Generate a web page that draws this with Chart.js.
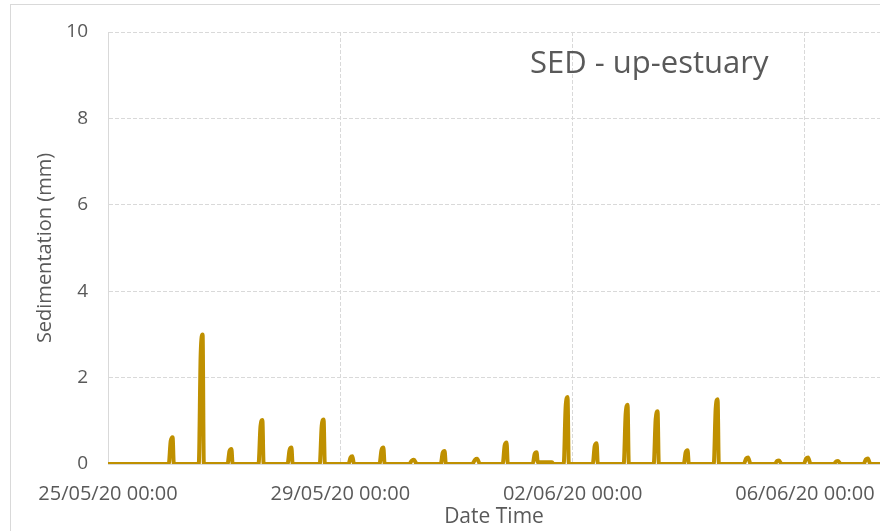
<!DOCTYPE html>
<html>
<head>
<meta charset="utf-8">
<script src="https://cdn.jsdelivr.net/npm/chart.js@4"></script>
<style>
    html, body { margin: 0; padding: 0; background: #ffffff; overflow: hidden; }
    #frame {
        position: absolute; left: 10px; top: 4px; width: 900px; height: 540px;
        border-left: 1px solid #d9d9d9; border-top: 1px solid #d9d9d9;
    }
    #wrap { position: absolute; left: 0; top: 0; width: 869px; height: 526px; }
</style>
</head>
<body>
<div id="frame"><div id="wrap"><canvas id="sedChart"></canvas></div></div>
<script>
// hours since 25/05/20 00:00, one row per tidal spike
const hours = [
    0,
    25.1, 25.9, 26.7, 27.2,
    37.5, 38.3, 39.1, 39.6,
    49.4, 50.2, 51.0, 51.5,
    62.2, 63.0, 63.8, 64.3,
    74.2, 75.0, 75.8, 76.3,
    87.5, 88.3, 89.1, 89.6,
    99.4, 100.2, 101.0, 101.6,
    112.2, 113.0, 113.8, 114.3,
    124.4, 125.6, 126.4, 127.6,
    137.5, 138.3, 139.1, 139.6,
    150.5, 151.7, 152.5, 153.7,
    163.1, 163.9, 164.7, 165.2,
    175.5, 176.3, 177.1, 177.6, 183.5, 184.0,
    188.3, 189.1, 189.9, 190.4,
    200.3, 201.1, 201.9, 202.4,
    213.1, 213.9, 214.7, 215.2,
    225.5, 226.3, 227.1, 227.6,
    237.9, 238.7, 239.5, 240.0,
    250.3, 251.1, 251.9, 252.4,
    262.7, 263.7, 264.5, 265.5,
    275.5, 276.5, 277.3, 278.3,
    287.5, 288.5, 289.3, 290.3,
    299.9, 300.9, 301.7, 302.7,
    312.2, 313.2, 314.0, 315.0,
    330
];
const sedMm = [
    0,
    0, 0.53, 0.62, 0,
    0, 2.55, 3.0, 0,
    0, 0.30, 0.35, 0,
    0, 0.87, 1.02, 0,
    0, 0.32, 0.38, 0,
    0, 0.88, 1.03, 0,
    0, 0.15, 0.18, 0,
    0, 0.32, 0.38, 0,
    0, 0.08, 0.10, 0,
    0, 0.26, 0.30, 0,
    0, 0.10, 0.12, 0,
    0, 0.43, 0.50, 0,
    0, 0.23, 0.27, 0.04, 0.04, 0,
    0, 1.32, 1.55, 0,
    0, 0.41, 0.48, 0,
    0, 1.16, 1.37, 0,
    0, 1.04, 1.22, 0,
    0, 0.27, 0.32, 0,
    0, 1.28, 1.50, 0,
    0, 0.13, 0.15, 0,
    0, 0.07, 0.08, 0,
    0, 0.13, 0.15, 0,
    0, 0.06, 0.07, 0,
    0, 0.11, 0.13, 0,
    0
];
const tickHours = [0, 96, 192, 288];
const tickLabels = ['25/05/20 00:00', '29/05/20 00:00', '02/06/20 00:00', '06/06/20 00:00'];
const chartTitle = 'SED - up-estuary';

const textColor = '#595959';
const gridColor = '#d9d9d9';
const fontFamily = '"Open Sans", "Liberation Sans", sans-serif';

// title sits inside the plot area, top right
const insideTitle = {
    id: 'insideTitle',
    afterDraw(chart) {
        const ctx = chart.ctx;
        ctx.save();
        ctx.font = '31px ' + fontFamily;
        ctx.fillStyle = textColor;
        ctx.textBaseline = 'middle';
        ctx.textAlign = 'left';
        ctx.fillText(chartTitle, 519, 59);
        ctx.restore();
    }
};

new Chart(document.getElementById('sedChart').getContext('2d'), {
    type: 'line',
    data: {
        datasets: [{
            label: 'SED',
            data: hours.map((h, i) => ({ x: h, y: sedMm[i] })),
            borderColor: '#bf9000',
            borderWidth: 4,
            pointRadius: 0,
            cubicInterpolationMode: 'monotone',
            fill: false
        }]
    },
    options: {
        responsive: true,
        maintainAspectRatio: false,
        animation: false,
        layout: { padding: { top: 27, left: 0, right: 0, bottom: 0 } },
        plugins: {
            legend: { display: false },
            tooltip: { enabled: false }
        },
        scales: {
            x: {
                type: 'linear',
                min: 0,
                max: 319,
                afterFit: scale => {
                    scale.height = 67;
                    scale.paddingLeft = 0;
                    scale.paddingRight = 0;
                },
                afterBuildTicks: scale => { scale.ticks = tickHours.map(v => ({ value: v })); },
                grid: { color: gridColor, lineWidth: 1, drawTicks: false },
                border: { display: true, color: gridColor, dash: [4, 2] },
                ticks: {
                    autoSkip: false,
                    maxRotation: 0,
                    padding: 18,
                    color: textColor,
                    font: { family: fontFamily, size: 20 },
                    callback: v => tickLabels[tickHours.indexOf(v)]
                },
                title: {
                    display: true,
                    text: 'Date Time',
                    color: textColor,
                    font: { family: fontFamily, size: 21 },
                    padding: { top: 0, bottom: 1 }
                }
            },
            y: {
                min: 0,
                max: 10,
                afterFit: scale => {
                    scale.width = 97;
                    scale.paddingTop = 0;
                    scale.paddingBottom = 0;
                },
                grid: { color: gridColor, lineWidth: 1, drawTicks: false },
                border: { display: true, color: gridColor, dash: [4, 2] },
                ticks: {
                    stepSize: 2,
                    padding: 20,
                    color: textColor,
                    font: { family: fontFamily, size: 19 }
                },
                title: {
                    display: true,
                    text: 'Sedimentation (mm)',
                    color: textColor,
                    font: { family: fontFamily, size: 20 },
                    padding: { top: 22, bottom: 0 }
                }
            }
        }
    },
    plugins: [insideTitle]
});
</script>
</body>
</html>
